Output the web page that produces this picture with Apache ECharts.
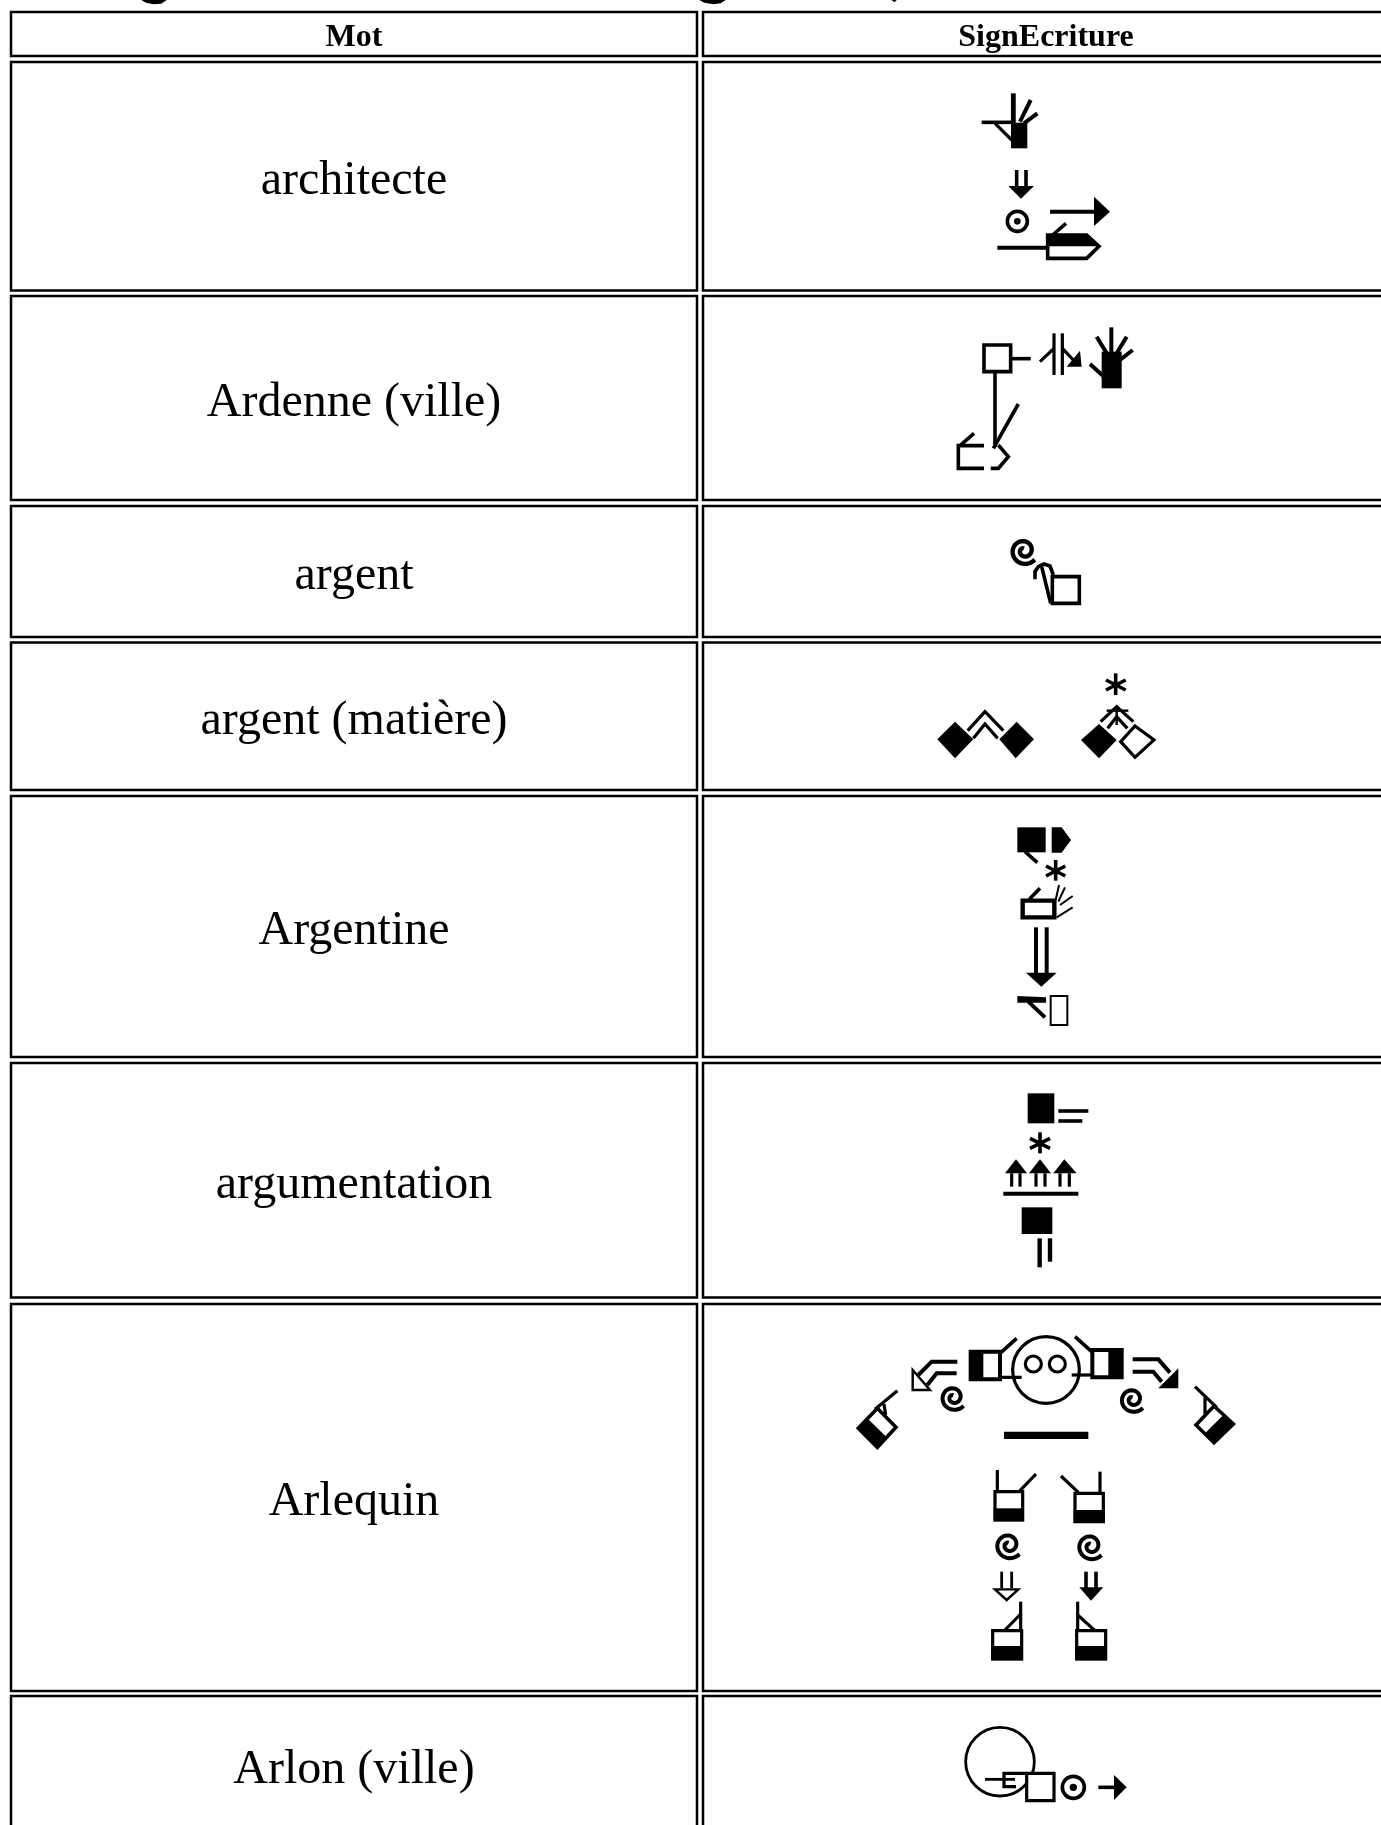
<!DOCTYPE html>
<html><head><meta charset="utf-8">
<style>html,body{margin:0;padding:0;background:#fff;overflow:hidden}#c{width:1381px;height:1825px;filter:blur(0.55px)}</style>
<script src="https://cdn.jsdelivr.net/npm/echarts@6/dist/echarts.min.js"></script>
</head><body><div id="c"></div>
<script>
// Table content
const headers = ['Mot', 'SignEcriture'];
const words = ['architecte', 'Ardenne (ville)', 'argent', 'argent (matière)', 'Argentine', 'argumentation', 'Arlequin', 'Arlon (ville)'];
const rowTops = [11, 61, 295, 505, 641.5, 795, 1062, 1303, 1695];
const rowBottoms = [57, 291.5, 501, 638, 791, 1058, 1298.5, 1692, 1860];
const colLefts = [10, 702];
const colRights = [698, 1400];

// Glyph primitives, in 3x units relative to an origin.
// l polyline | o closed outline, white inside | f filled polygon | c ring | d dot | s spiral | r outlined rect | b filled rect
const titleRemains = { o: [0, 0], p: [
  ['f', 424,0, 438,8, 460,13, 484,11, 500,0],
  ['f', 2098,0, 2113,8, 2140,13, 2162,10, 2177,0],
  ['f', 2674,0, 2690,0, 2684,7]
]};
const signArchitecte = { o: [900, 80], p: [
  ['l',12, 340,40, 340,130], ['l',10, 392,60, 360,125], ['l',10, 412,100, 372,130],
  ['l',9, 245,127, 335,127], ['l',8, 285,130, 335,180],
  ['f', 333,128, 382,128, 382,205, 333,205],
  ['l',9, 350,270, 350,320], ['l',9, 378,270, 378,320], ['f', 325,318, 402,318, 363,356],
  ['c',9, 352,424, 30], ['d', 352,424, 10],
  ['l',10, 450,395, 590,395], ['f', 582,350, 630,395, 582,438],
  ['l',10, 292,503, 440,503],
  ['o',9, 443,465, 560,465, 597,499, 560,535, 443,535],
  ['f', 440,462, 560,462, 597,499, 440,499], ['l',9, 458,465, 498,430]
]};
const signArdenne = { o: [900, 80], p: [
  ['r',9, 252,795, 332,875], ['l',9, 335,836, 392,836],
  ['l',9, 285,875, 285,1100], ['l',9, 355,972, 280,1105],
  ['l',9, 222,1060, 180,1097], ['l',9, 252,1097, 175,1097, 175,1165, 252,1165],
  ['l',9, 295,1095, 325,1130, 295,1165, 272,1165],
  ['l',8, 462,760, 462,885], ['l',8, 487,760, 487,885], ['l',8, 420,845, 462,805],
  ['l',8, 487,805, 520,840], ['f', 540,812, 545,860, 500,860],
  ['b', 605,815, 665,925], ['l',10, 634,742, 634,820], ['l',10, 680,770, 650,820],
  ['l',10, 698,810, 660,840], ['l',10, 590,770, 620,820], ['l',10, 570,852, 612,890]
]};
const signArgent = { o: [900, 520], p: [
  ['s',11, 372,92, 38],
  ['l',9, 405,178, 405,155, 415,140, 432,132, 450,138, 460,165], ['l',9, 425,140, 452,250],
  ['r',9, 457,170, 538,250]
]};
const signArgentMatiere = { o: [900, 520], p: [
  ['f', 165,605, 220,658, 165,715, 112,658], ['f', 350,605, 402,658, 347,715, 298,658],
  ['l',8, 203,632, 255,575, 310,632], ['l',8, 220,655, 255,612, 293,655],
  ['l',9, 647,460, 647,525], ['l',9, 618,480, 677,510], ['l',9, 618,510, 677,480],
  ['f', 597,612, 650,660, 597,715, 543,660],
  ['o',8, 705,618, 762,660, 705,712, 662,665],
  ['l',8, 602,605, 650,560, 700,605], ['l',8, 623,625, 650,590, 682,625],
  ['l',6, 620,572, 685,572], ['l',6, 650,560, 650,615]
]};
const signArgentine = { o: [960, 810], p: [
  ['b', 172,52, 257,127], ['l',9, 195,125, 232,158],
  ['f', 275,52, 305,52, 333,90, 305,128, 275,128],
  ['l',9, 287,150, 287,212], ['l',9, 258,168, 316,198], ['l',9, 258,198, 316,168],
  ['r',11, 188,272, 283,322], ['l',9, 208,268, 240,235],
  ['l',5, 287,270, 297,225], ['l',5, 295,275, 315,232], ['l',5, 300,285, 338,258], ['l',5, 290,322, 338,292],
  ['l',10, 228,352, 228,490], ['l',10, 260,352, 260,490], ['f', 198,488, 290,488, 244,530],
  ['f', 172,558, 258,562, 258,578, 172,578], ['l',10, 205,575, 255,622],
  ['r',5, 272,558, 322,645]
]};
const signArgumentation = { o: [960, 810], p: [
  ['b', 203,850, 283,940], ['l',9, 295,903, 385,903], ['l',9, 295,933, 367,933],
  ['l',9, 240,967, 240,1030], ['l',9, 210,985, 270,1015], ['l',9, 210,1015, 270,985],
  ['f', 135,1090, 168,1048, 201,1090], ['f', 207,1090, 240,1048, 273,1090], ['f', 280,1090, 313,1048, 350,1090],
  ['l',8, 155,1090, 155,1130], ['l',8, 180,1090, 180,1130], ['l',8, 228,1090, 228,1130],
  ['l',8, 255,1090, 255,1130], ['l',8, 300,1090, 300,1130], ['l',8, 328,1090, 328,1130],
  ['b', 130,1145, 355,1157], ['b', 185,1192, 277,1272],
  ['l',11, 239,1285, 239,1372], ['l',11, 270,1285, 270,1355]
]};
const signArlequinTop = { o: [840, 1320], p: [
  ['c',8, 618,150, 100], ['c',8, 580,132, 24], ['c',8, 652,132, 24],
  ['r',10, 392,95, 480,178], ['b', 390,92, 430,181], ['l',9, 480,100, 530,55], ['l',8, 480,172, 545,172],
  ['r',10, 757,90, 845,172], ['b', 805,87, 848,175], ['l',9, 755,95, 705,50], ['l',8, 695,165, 755,165],
  ['l',10, 352,125, 275,125, 235,165], ['l',10, 350,160, 290,160, 262,195], ['o',6, 218,150, 218,210, 270,210],
  ['l',10, 878,118, 955,118, 990,158], ['l',10, 878,155, 940,155, 965,185], ['f', 1015,145, 1015,205, 955,205],
  ['s',10, 340,232, 36], ['s',10, 878,238, 36],
  ['b', 492,335, 745,357],
  ['o',9, 112,265, 168,322, 112,382, 55,325], ['f', 55,325, 85,298, 140,352, 112,382],
  ['l',8, 172,212, 105,268], ['l',8, 132,252, 137,285],
  ['o',9, 1122,258, 1180,312, 1122,368, 1068,315], ['f', 1180,312, 1122,368, 1095,340, 1150,285],
  ['l',8, 1065,200, 1130,262], ['l',8, 1095,232, 1095,282]
]};
const signArlequinLegs = { o: [960, 1460], p: [
  ['l',8, 112,30, 112,95], ['l',8, 228,42, 180,92], ['r',8, 105,95, 188,180], ['b', 101,145, 192,184],
  ['l',8, 420,35, 420,100], ['l',8, 303,48, 355,97], ['r',8, 345,100, 430,185], ['b', 341,150, 434,189],
  ['s',10, 146,255, 38], ['s',10, 392,258, 38],
  ['l',7, 125,335, 125,385], ['l',7, 155,335, 155,385], ['o',6, 105,388, 175,388, 140,420],
  ['l',9, 378,335, 378,385], ['l',9, 408,335, 408,385], ['f', 358,382, 430,382, 393,422],
  ['l',8, 182,425, 182,515], ['l',8, 135,510, 182,462], ['r',8, 98,512, 185,597], ['b', 94,558, 189,601],
  ['l',8, 353,425, 353,515], ['l',8, 353,465, 405,512], ['r',8, 350,512, 437,597], ['b', 346,558, 441,601]
]};
const signArlon = { o: [940, 1680], p: [
  ['c',7, 180,245, 103], ['l',7, 135,298, 225,298],
  ['l',8, 228,320, 192,320, 192,280, 260,280], ['r',8, 260,280, 342,362],
  ['c',9, 400,322, 33], ['d', 400,322, 11],
  ['l',9, 475,322, 530,322], ['f', 522,285, 560,322, 522,360]
]};
const signs = [titleRemains, signArchitecte, signArdenne, signArgent, signArgentMatiere, signArgentine,
  signArgumentation, signArlequinTop, signArlequinLegs, signArlon];

const strokeGain = 1.2;
const cellRows = [];
rowTops.forEach((_, r) => colLefts.forEach((_, c) => cellRows.push([r, c])));

function pairs(a, from) { const out = []; for (let i = from; i + 1 < a.length; i += 2) out.push([a[i], a[i + 1]]); return out; }

function renderCell(params, api) {
  const r = api.value(0), c = api.value(1);
  const p0 = api.coord([colLefts[c] + 1, rowTops[r] + 1]);
  const p1 = api.coord([colRights[c] - 1, rowBottoms[r] - 1]);
  const kids = [{ type: 'rect', shape: { x: p0[0], y: p0[1], width: p1[0] - p0[0], height: p1[1] - p0[1] },
    style: { fill: '#fff', stroke: '#000', lineWidth: 2.5 } }];
  const label = r === 0 ? headers[c] : (c === 0 ? words[r - 1] : null);
  if (label) {
    const cx = c === 0 ? (colLefts[0] + colRights[0]) / 2 : 1046;
    const cy = r === 8 ? 1765 : (rowTops[r] + rowBottoms[r]) / 2;
    const m = api.coord([cx, cy + (r === 0 ? 3.5 : 5)]);
    kids.push({ type: 'text', style: { text: label, x: m[0], y: m[1], textAlign: 'center', textVerticalAlign: 'middle',
      fill: '#000', font: (r === 0 ? 'bold 32px' : '48px') + ' "Liberation Serif", serif' } });
  }
  return { type: 'group', children: kids };
}

function renderSign(params, api) {
  const g = signs[api.value(0)];
  const P = (x, y) => api.coord([g.o[0] + x / 3, g.o[1] + y / 3]);
  const W = v => v / 3 * strokeGain;
  const kids = [];
  g.p.forEach(a => {
    const k = a[0];
    if (k === 'l') kids.push({ type: 'polyline', shape: { points: pairs(a, 2).map(q => P(q[0], q[1])) },
      style: { stroke: '#000', lineWidth: W(a[1]), fill: 'none', lineJoin: 'miter' } });
    else if (k === 'o') kids.push({ type: 'polygon', shape: { points: pairs(a, 2).map(q => P(q[0], q[1])) },
      style: { stroke: '#000', lineWidth: W(a[1]), fill: '#fff' } });
    else if (k === 'f') kids.push({ type: 'polygon', shape: { points: pairs(a, 1).map(q => P(q[0], q[1])) }, style: { fill: '#000' } });
    else if (k === 'r' || k === 'b') {
      const s = k === 'r' ? 2 : 1, w0 = P(a[s], a[s + 1]), w1 = P(a[s + 2], a[s + 3]);
      kids.push({ type: 'rect', shape: { x: w0[0], y: w0[1], width: w1[0] - w0[0], height: w1[1] - w0[1] },
        style: k === 'r' ? { stroke: '#000', lineWidth: W(a[1]), fill: '#fff' } : { fill: '#000' } });
    } else if (k === 'c') {
      const q = P(a[2], a[3]);
      kids.push({ type: 'circle', shape: { cx: q[0], cy: q[1], r: a[4] / 3 }, style: { stroke: '#000', lineWidth: W(a[1]), fill: 'none' } });
    } else if (k === 'd') {
      const q = P(a[1], a[2]);
      kids.push({ type: 'circle', shape: { cx: q[0], cy: q[1], r: a[3] / 3 }, style: { fill: '#000' } });
    } else if (k === 's') {
      const pts = [];
      for (let i = 0; i <= 48; i++) {
        const t = i / 48, th = (40 + t * 590) * Math.PI / 180, rr = a[4] * (1.12 - 0.95 * t);
        pts.push(P(a[2] + rr * Math.cos(th), a[3] + rr * Math.sin(th)));
      }
      kids.push({ type: 'polyline', shape: { points: pts }, style: { stroke: '#000', lineWidth: W(a[1]), fill: 'none' } });
    }
  });
  return { type: 'group', children: kids };
}

const chart = echarts.init(document.getElementById('c'), null, { renderer: 'canvas', width: 1381, height: 1825 });
chart.setOption({
  animation: false,
  backgroundColor: '#fff',
  grid: { left: 0, right: 0, top: 0, bottom: 0 },
  xAxis: { type: 'value', min: 0, max: 1381, show: false },
  yAxis: { type: 'value', min: 0, max: 1825, inverse: true, show: false },
  series: [
    { type: 'custom', renderItem: renderCell, data: cellRows, encode: { x: 0, y: 1 }, clip: false, silent: true, z: 1 },
    { type: 'custom', renderItem: renderSign, data: signs.map((_, i) => [i, i]), encode: { x: 0, y: 1 }, clip: false, silent: true, z: 2 }
  ]
});
</script></body></html>
